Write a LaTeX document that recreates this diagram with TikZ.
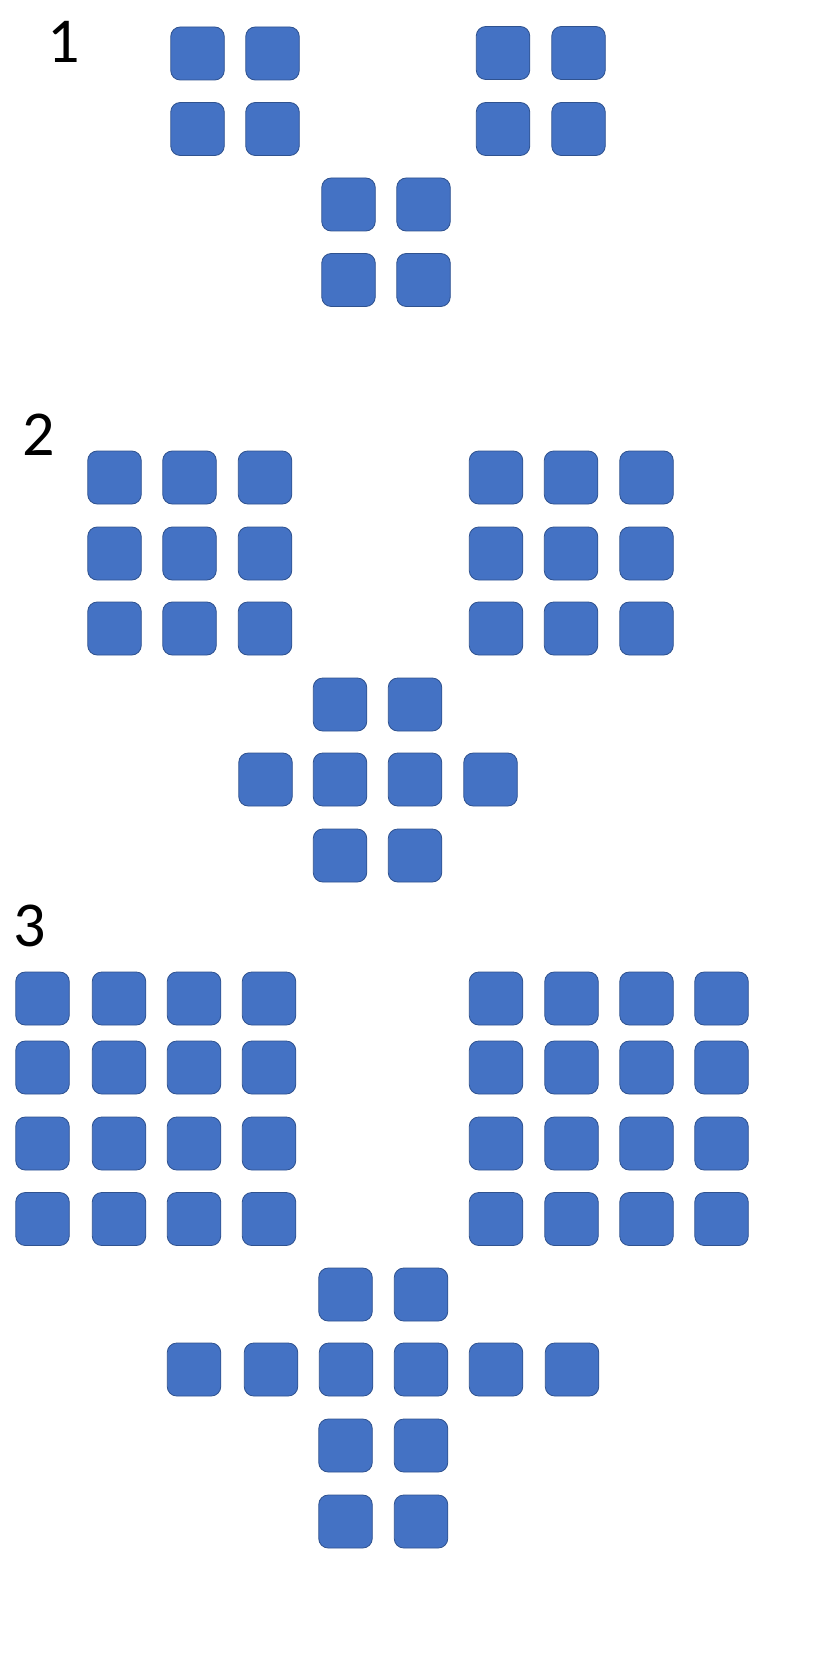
\documentclass[tikz,border=0pt]{standalone}
\usepackage{fontspec}
\setmainfont{Carlito}
\definecolor{boxfill}{HTML}{4472C4}
\definecolor{boxline}{HTML}{2F528F}
\tikzset{
  tile/.style={rectangle, draw=boxline, fill=boxfill, line width=0.8pt,
    minimum width=53.5pt, minimum height=53pt, rounded corners=9.5pt, inner sep=0pt},
  numlabel/.style={font=\fontsize{64}{64}\selectfont, inner sep=0pt, anchor=center}
}
\begin{document}
\begin{tikzpicture}[x=1pt,y=-1pt]
\useasboundingbox (0,0) rectangle (828,1680);
% labels
\node[numlabel] (lab1) at (64,42) {1};
\node[numlabel] (lab2) at (39,435) {2};
\node[numlabel] (lab3) at (30,926) {3};
% section 1
\foreach \x [count=\i] in {197.5,272.5}{
  \foreach \y [count=\j] in {53.5,129}{
    \node[tile] (aL\i\j) at (\x,\y) {};
  }
}
\foreach \x [count=\i] in {503,578.5}{
  \foreach \y [count=\j] in {53,129}{
    \node[tile] (aR\i\j) at (\x,\y) {};
  }
}
\foreach \x [count=\i] in {348.5,423.5}{
  \foreach \y [count=\j] in {204.5,280}{
    \node[tile] (aC\i\j) at (\x,\y) {};
  }
}
% section 2
\foreach \x [count=\i] in {114.5,189.5,265}{
  \foreach \y [count=\j] in {477.5,553.5,628.5}{
    \node[tile] (bL\i\j) at (\x,\y) {};
  }
}
\foreach \x [count=\i] in {496,571,646.5}{
  \foreach \y [count=\j] in {477.5,553.5,628.5}{
    \node[tile] (bR\i\j) at (\x,\y) {};
  }
}
\foreach \x [count=\i] in {340,415}{
  \node[tile] (bCt\i) at (\x,704.5) {};
  \node[tile] (bCb\i) at (\x,855.5) {};
}
\foreach \x [count=\i] in {265.5,340,415,490.5}{
  \node[tile] (bCm\i) at (\x,779.5) {};
}
% section 3
\foreach \x [count=\i] in {42.5,119,194,269}{
  \foreach \y [count=\j] in {998.5,1067.5,1143.5,1219}{
    \node[tile] (cL\i\j) at (\x,\y) {};
  }
}
\foreach \x [count=\i] in {496,571.5,646.5,721.5}{
  \foreach \y [count=\j] in {998.5,1067.5,1143.5,1219}{
    \node[tile] (cR\i\j) at (\x,\y) {};
  }
}
\foreach \x [count=\i] in {345.5,421}{
  \node[tile] (cCa\i) at (\x,1294.5) {};
  \node[tile] (cCc\i) at (\x,1445.5) {};
  \node[tile] (cCd\i) at (\x,1521.5) {};
}
\foreach \x [count=\i] in {194,271,346,421,496,572}{
  \node[tile] (cCm\i) at (\x,1369.5) {};
}
\end{tikzpicture}
\end{document}
